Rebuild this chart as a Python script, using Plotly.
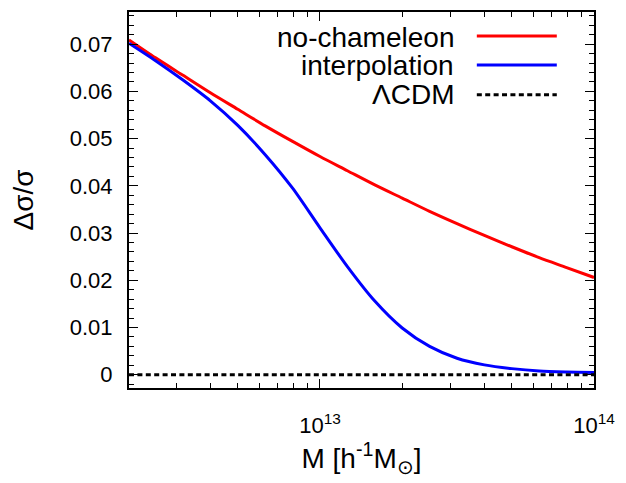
import numpy as np
import plotly.graph_objects as go

# log10(M) sample points
logM_red = [12.303, 12.4, 12.5, 12.6, 12.7, 12.8, 12.9, 13.0, 13.1, 13.2, 13.3, 13.4, 13.5, 13.6, 13.7, 13.8, 13.9, 14.0]
dsig_red = [0.0709, 0.0671, 0.0634, 0.0597, 0.0562, 0.0527, 0.0494, 0.0462, 0.0432, 0.0402, 0.0374, 0.0346,
            0.0320, 0.0295, 0.0271, 0.0248, 0.0227, 0.0206]

logM_blue = [12.303, 12.4, 12.5, 12.6, 12.7, 12.8, 12.9, 13.0, 13.1, 13.2, 13.3, 13.4, 13.5, 13.6, 13.7, 13.8, 13.9, 14.0]
dsig_blue = [0.0702, 0.0665, 0.0624, 0.0580, 0.0528, 0.0466, 0.0395, 0.0311, 0.0229, 0.0156, 0.0099, 0.0060,
             0.0035, 0.0021, 0.0013, 0.0008, 0.0006, 0.0005]

logM_lcdm = [12.303, 14.0]
dsig_lcdm = [0.0, 0.0]

names = ["no-chameleon", "interpolation", "\u039bCDM"]
colors = ["#ff0000", "#0000ff", "#000000"]
dashes = ["solid", "solid", "5px,3.4px"]

ytick_vals = [0, 0.01, 0.02, 0.03, 0.04, 0.05, 0.06, 0.07]
xtick_vals = [1e13, 1e14]
xtick_text = ["10<sup>13</sup>", "10<sup>14</sup>"]

FONT = "Liberation Sans, Arial, Helvetica, sans-serif"

fig = go.Figure()
series = [(logM_red, dsig_red), (logM_blue, dsig_blue), (logM_lcdm, dsig_lcdm)]
for (lx, ly), name, c, d in zip(series, names, colors, dashes):
    fig.add_trace(go.Scatter(
        x=[10 ** v for v in lx], y=ly, mode="lines", name=name,
        line=dict(color=c, width=3, dash=d, shape="spline", smoothing=0.8),
        showlegend=False))

# gnuplot-style key: text right-aligned, then a line sample
line_y = [0.9365, 0.859, 0.780]
text_y = [0.9325, 0.857, 0.7817]
for name, c, d, ly, ty in zip(names, colors, dashes, line_y, text_y):
    fig.add_annotation(text=name, xref="x domain", yref="y domain", x=0.703, y=ty,
                       xanchor="right", yanchor="middle", showarrow=False,
                       font=dict(size=28, color="black", family=FONT))
    fig.add_shape(type="line", xref="x domain", yref="y domain",
                  x0=0.748, x1=0.920, y0=ly, y1=ly,
                  line=dict(color=c, width=3, dash=d))

minor_x = [k * 10 ** e for e in (12, 13) for k in range(2, 10) if 2e12 <= k * 10 ** e <= 1e14]

fig.update_xaxes(type="log", range=[12.303, 14.0],
                 tickmode="array", tickvals=xtick_vals, ticktext=xtick_text,
                 ticks="inside", ticklen=9, tickwidth=1.3, tickcolor="black",
                 minor=dict(ticks="inside", ticklen=5, tickvals=minor_x, tickcolor="black",
                            tickwidth=1.3, showgrid=False),
                 showline=True, linecolor="black", linewidth=2, mirror="ticks",
                 showgrid=False, zeroline=False, ticklabelstandoff=17,
                 tickfont=dict(size=22, family=FONT, color="black"),
                 title=dict(text="M [h<sup>-1</sup>M<sub>\u2299</sub>]", standoff=11,
                            font=dict(size=28, family=FONT, color="black")))
fig.update_yaxes(range=[-0.0028, 0.0768], tickmode="array", tickvals=ytick_vals,
                 ticks="inside", ticklen=9, tickwidth=1.3, tickcolor="black",
                 minor=dict(ticks="inside", ticklen=5, dtick=0.002, tick0=0, tickcolor="black",
                            tickwidth=1.3, showgrid=False),
                 showline=True, linecolor="black", linewidth=2, mirror="ticks",
                 showgrid=False, zeroline=False, ticklabelstandoff=10,
                 tickfont=dict(size=22, family=FONT, color="black"),
                 title=dict(text="\u0394\u03c3/\u03c3", standoff=30,
                            font=dict(size=28, family=FONT, color="black")))

# page has an 8px body margin, so the figure is sized/offset to land on the same pixels
fig.update_layout(width=618, height=475, margin=dict(l=121, r=32, t=2, b=95),
                  paper_bgcolor="white", plot_bgcolor="white",
                  font=dict(family=FONT, color="black"))

fig.write_html("out.html")
